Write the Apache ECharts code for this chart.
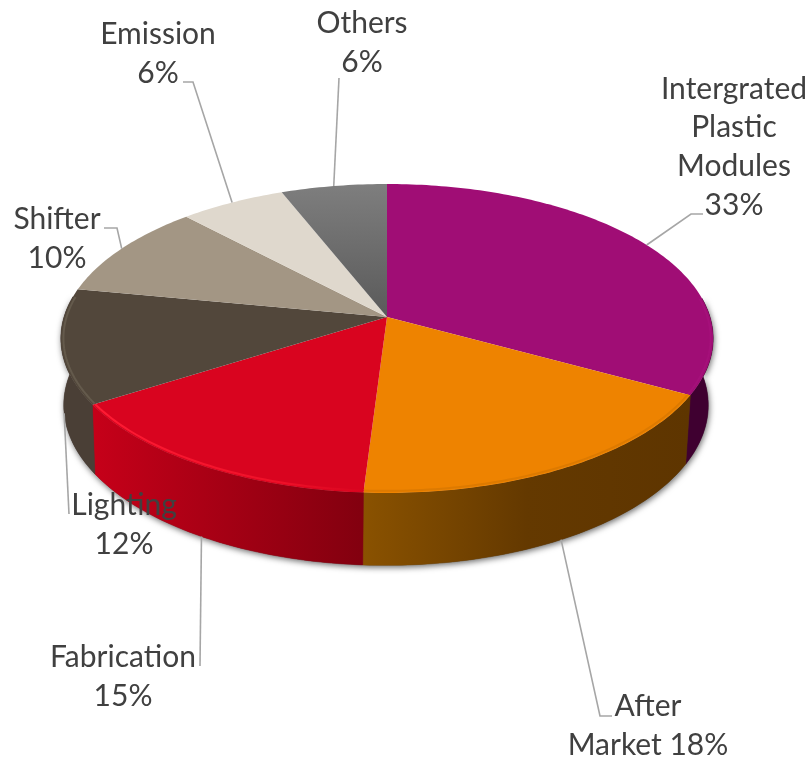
<!DOCTYPE html>
<html><head><meta charset="utf-8">
<style>html,body{margin:0;padding:0;background:#fff}#c{width:811px;height:760px}</style>
<script src="https://cdn.jsdelivr.net/npm/echarts@6/dist/echarts.min.js"></script>
</head><body><div id="c"></div>
<script>
// --- data ---
const categories = ['Intergrated\nPlastic\nModules','After\nMarket','Fabrication','Lighting','Shifter','Emission','Others'];
const values = [33,18,15,12,10,6,6];
const separators = ['\n',' ','\n','\n','\n','\n','\n'];
// --- styles ---
const topColors = ['#a00d75','#ee8300','#d9041f','#52473b','#a39684','#dfd8cd',
  {type:'linear',x:0,y:0,x2:0,y2:1,colorStops:[{offset:0,color:'#7e7e7e'},{offset:1,color:'#5a5a5a'}]}];
const edgeColors = ['#a5107a','#dd7a00',
  {type:'linear',x:0,y:0,x2:1,y2:0,colorStops:[{offset:0,color:'#ff1c34'},{offset:.7,color:'#ee1028'},{offset:1,color:'#d9041f'}]},
  '#645a4c','#b0a492','#ece6dc','#8a8a8a'];
const wallColors = [
  '#3f0030',
  {type:'linear',x:0,y:0,x2:1,y2:0,colorStops:[{offset:0,color:'#8a5200'},{offset:.5,color:'#643900'},{offset:1,color:'#5e3500'}]},
  {type:'linear',x:0,y:0,x2:1,y2:0,colorStops:[{offset:0,color:'#c60019'},{offset:1,color:'#82000f'}]},
  '#4a3f36','#4a3f36','#4a3f36','#4a3f36'];
// --- layout (disc projection with perspective, label placement) ---
const P = {cx:387, cxb:386, topY:317, botY:383, A:323, B:151.5, Bb:157, k:0.139, sx:0.988};
const labelPos = [[734,147],[648,726],[123,677],[124,525],[57,239],[158,54],[362,43]];
const labelFont = '30px Lato';
const labelLine = 38.6;
// elbow & end of each leader, from the label towards the disc
const leaderEnds = [[[703,214],[691,214]],[[612,716],[600,716]],[[200,666]],[[69,514]],[[104,228],[117,228]],[[183,82],[193,82]],[[339,78]]];
const useBottom = [false,true,true,true,false,false,false];

const total = values.reduce((a,b)=>a+b,0);
const starts = []; values.reduce((s,v,i)=>{starts[i]=s;return s+v;},0);
const ang = f => f/total*2*Math.PI;
function proj(t,bottom){
  const u=Math.sin(t), v=-Math.cos(t), d=1-P.k*v;
  return bottom ? [P.cxb+P.sx*P.A*u/d, P.botY+P.Bb*v/d] : [P.cx+P.A*u/d, P.topY+P.B*v/d];
}
function arc(i,frontOnly){
  const a=ang(starts[i]), b=ang(starts[i]+values[i]), pts=[];
  const n=Math.max(2,Math.ceil((b-a)/(Math.PI/180)));
  for(let j=0;j<=n;j++){
    const t=a+(b-a)*j/n;
    if(!frontOnly || -Math.cos(t)>=-P.k) pts.push(t);
  }
  return pts;
}
function wallPoly(ts){return ts.map(t=>proj(t,false)).concat(ts.slice().reverse().map(t=>proj(t,true)));}
function wallItem(params){
  const i=params.dataIndex, ts=arc(i,true);
  if(ts.length<2) return {type:'group',children:[]};
  const children=[];
  if(i===0){
    // soft shadow under the whole front wall, built from every slice's arc
    let all=[]; values.forEach((_,j)=>{all=all.concat(arc(j,true));});
    all=all.sort((a,b)=>a-b);
    children.push({type:'polygon',shape:{points:wallPoly(all)},
      style:{fill:'#4a3f36',shadowBlur:6,shadowColor:'rgba(0,0,0,0.6)',shadowOffsetY:2,shadowOffsetX:1}});
  }
  return {type:'group',children};
}
function wallFace(params){
  const i=params.dataIndex, ts=arc(i,true);
  if(ts.length<2) return {type:'group',children:[]};
  return {type:'polygon',shape:{points:wallPoly(ts)},style:{fill:wallColors[i],stroke:wallColors[i],lineWidth:0.5}};
}
function topItem(params){
  const i=params.dataIndex, all=arc(i,false), front=arc(i,true);
  const poly=[[P.cx,P.topY]].concat(all.map(t=>proj(t,false)));
  const children=[{type:'polygon',shape:{points:poly},style:{fill:topColors[i]}}];
  if(front.length>1){
    const line=front.map(t=>{const p=proj(t,false);return [P.cx+(p[0]-P.cx)*0.992,P.topY+(p[1]-P.topY)*0.988];});
    children.push({type:'polyline',shape:{points:line},style:{stroke:edgeColors[i],lineWidth:2,fill:null}});
  }
  return {type:'group',children};
}
function leaderItem(params){
  const i=params.dataIndex, mid=ang(starts[i]+values[i]/2);
  const pts=leaderEnds[i].concat([proj(mid,useBottom[i])]);
  return {type:'polyline',shape:{points:pts},style:{stroke:'#a6a6a6',lineWidth:1.6,fill:null}};
}
function labelItem(params){
  const i=params.dataIndex;
  return {type:'text',x:labelPos[i][0],y:labelPos[i][1],
    style:{text:categories[i]+separators[i]+values[i]+'%',font:labelFont,fill:'#404040',
      align:'center',verticalAlign:'middle',lineHeight:labelLine}};
}
const rows=values.map(v=>[v]);
const mk=(fn,z)=>({type:'custom',coordinateSystem:'none',renderItem:fn,data:rows,z,silent:true,animation:false});
const chart=echarts.init(document.getElementById('c'),null,{renderer:'canvas'});
chart.setOption({animation:false,backgroundColor:'#fff',tooltip:{show:false},
  series:[mk(wallItem,1),mk(wallFace,2),mk(topItem,3),mk(leaderItem,4),mk(labelItem,5)]});
</script></body></html>
